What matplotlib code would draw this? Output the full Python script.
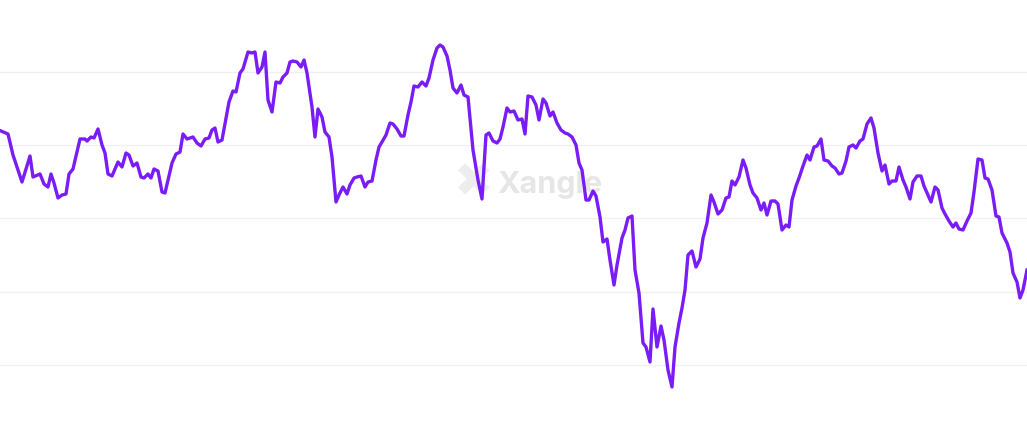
import numpy as np
import matplotlib.pyplot as plt

# x position (day index, px-like scale) and level (top = 0)
xs = [1, 8, 13, 22, 30, 33, 40, 44, 48, 51, 54, 58, 62, 66, 69, 73, 80, 85, 87, 91,
      94, 98, 102, 105, 108, 112, 118, 122, 126, 129, 133, 137, 141, 144, 148, 151, 154, 158, 162, 165,
      172, 176, 180, 183, 187, 193, 197, 201, 205, 209, 212, 215, 218, 222, 229, 233, 236, 240, 243, 248,
      252, 255, 258, 262, 265, 268, 272, 276, 280, 283, 287, 290, 293, 297, 301, 304, 307, 312, 315, 318,
      322, 325, 329, 332, 336, 339, 343, 347, 350, 354, 357, 361, 365, 368, 372, 376, 379, 382, 386, 390,
      393, 397, 401, 404, 408, 411, 414, 418, 422, 426, 429, 433, 437, 440, 443, 447, 450, 453, 457, 461,
      464, 468, 473, 478, 482, 486, 489, 493, 497, 500, 503, 507, 510, 514, 518, 522, 525, 528, 532, 536,
      539, 543, 546, 550, 553, 557, 561, 565, 568, 572, 576, 579, 582, 586, 589, 593, 596, 600, 603, 607,
      610, 614, 617, 622, 625, 628, 632, 635, 639, 643, 646, 650, 653, 657, 661, 664, 668, 672, 675, 679,
      682, 685, 688, 692, 696, 700, 703, 707, 711, 714, 718, 722, 726, 729, 732, 735, 739, 743, 746, 750,
      753, 757, 761, 764, 767, 771, 775, 778, 782, 786, 789, 792, 796, 799, 803, 807, 810, 814, 817, 821,
      824, 828, 832, 835, 839, 842, 846, 849, 853, 856, 860, 863, 867, 871, 874, 878, 882, 885, 889, 892,
      896, 899, 903, 906, 910, 913, 917, 921, 924, 928, 931, 935, 938, 942, 945, 949, 953, 956, 959, 963,
      967, 971, 974, 978, 982, 985, 988, 992, 996, 999, 1002, 1007, 1010, 1013, 1017, 1020, 1023, 1027]
levels = [131, 134, 155, 182, 156, 177, 174, 184, 187, 174, 183, 198, 195, 194, 174, 169, 139, 139, 141, 137,
          138, 129, 145, 153, 174, 176, 162, 167, 153, 155, 166, 163, 177, 178, 174, 178, 169, 171, 192, 193,
          163, 154, 152, 134, 139, 137, 143, 146, 139, 138, 130, 128, 142, 140, 102, 91, 92, 73, 69, 52,
          53, 52, 73, 67, 52, 100, 112, 82, 83, 77, 73, 62, 61, 62, 67, 60, 73, 107, 137, 109,
          117, 132, 137, 157, 202, 195, 187, 194, 185, 178, 177, 176, 187, 182, 181, 160, 147, 142, 135, 123,
          124, 129, 136, 136, 115, 102, 86, 87, 82, 86, 78, 60, 48, 45, 47, 56, 70, 88, 93, 85,
          95, 97, 150, 180, 199, 135, 133, 141, 143, 139, 127, 108, 112, 111, 120, 119, 134, 96, 97, 105,
          120, 99, 103, 116, 112, 123, 130, 133, 134, 137, 145, 163, 170, 200, 200, 191, 196, 217, 242, 239,
          260, 285, 265, 238, 230, 218, 216, 270, 293, 343, 347, 362, 309, 347, 326, 340, 370, 387, 347, 323,
          308, 290, 255, 251, 267, 259, 238, 223, 195, 202, 214, 210, 198, 197, 181, 185, 177, 160, 168, 185,
          193, 198, 210, 203, 215, 201, 201, 204, 230, 225, 227, 200, 186, 178, 166, 155, 160, 147, 146, 139,
          160, 161, 166, 168, 174, 173, 161, 147, 145, 148, 141, 139, 124, 118, 128, 153, 171, 165, 184, 181,
          181, 167, 180, 187, 199, 182, 176, 176, 186, 195, 202, 187, 190, 208, 214, 221, 227, 223, 229, 230,
          221, 213, 192, 159, 160, 178, 179, 190, 216, 217, 233, 243, 252, 273, 282, 298, 290, 270]
grid_levels = [72, 145, 218, 292, 365]

line_color = '#7a1cf6'

fig = plt.figure(figsize=(10.27, 4.37), dpi=100)
ax = fig.add_axes([0, 0, 1, 1])
ax.set_xlim(0, 1027)
ax.set_ylim(437, 0)

for g in grid_levels:
    ax.axhline(g, color='#f0f0f3', linewidth=1, zorder=0)

# watermark
ax.text(474, 184, '✖', fontsize=34, color='#ededed', ha='center', va='center', zorder=1)
ax.text(550, 185, 'Xangle', fontsize=22, color='#e6e6e6', ha='center', va='center',
        fontweight='bold', family='Inter', zorder=1)

ax.plot(xs, levels, color=line_color, linewidth=2.4, solid_joinstyle='round', zorder=2)

ax.axis('off')
fig.savefig('out.png', dpi=100)
